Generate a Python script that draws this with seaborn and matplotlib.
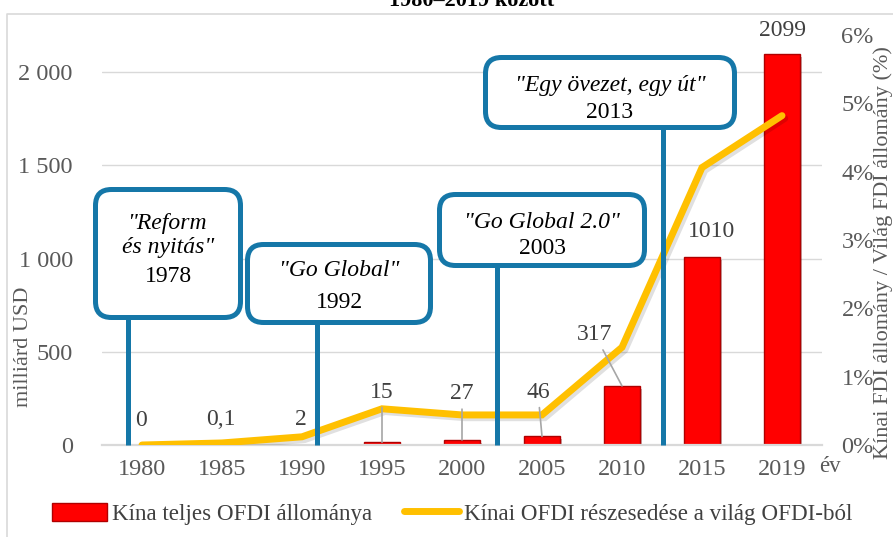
import numpy as np
import matplotlib
matplotlib.use('Agg')
import matplotlib.pyplot as plt
import matplotlib.patheffects as pe
from matplotlib.patches import FancyBboxPatch, Patch
from matplotlib.lines import Line2D
from matplotlib.transforms import Affine2D
from matplotlib.ticker import FuncFormatter, MultipleLocator
import seaborn as sns

# data
years = ['1980', '1985', '1990', '1995', '2000', '2005', '2010', '2015', '2019']
ofdi_stock = [0, 0.1, 2, 15, 27, 46, 317, 1010, 2099]          # milliárd USD
ofdi_labels = ['0', '0,1', '2', '15', '27', '46', '317', '1010', '2099']
world_share = [0.0, 0.03, 0.12, 0.53, 0.44, 0.44, 1.43, 4.06, 4.82]  # %

# label placement (pixel offsets from bar top) and leader lines
label_offsets = [(-1, 25), (-1, 25), (-1, 25), (0, 50), (0, 46), (-4, 44), (-27, 51), (10, 25), (0, 23)]
label_leader = [False, False, False, True, True, True, True, False, False]

# callout boxes: (italic lines, year, box x0, y0, x1, y1 in px from top-left, line x, text y's)
callouts = [
    (['"Reform', 'és nyitás"'], '1978', (93, 187, 243, 320), 128, [223, 248, 277]),
    (['"Go Global"'], '1992', (245, 242, 433, 325), 317, [270, 302]),
    (['"Go Global 2.0"'], '2003', (437, 192, 647, 268), 497, [222, 248]),
    (['"Egy övezet, egy út"'], '2013', (483, 55, 737, 130), 663, [85, 112]),
]

sns.set_style('white')
plt.rcParams['font.family'] = ['Liberation Serif', 'DejaVu Serif']

W, H = 893, 537
fig = plt.figure(figsize=(W / 100, H / 100), dpi=100)
pix = Affine2D().scale(1, -1).translate(0, H)  # px from top-left -> display

ax = fig.add_axes([102 / W, 92 / H, 720 / W, 410 / H])
sns.barplot(x=years, y=ofdi_stock, ax=ax, color='#FF0000', edgecolor='#B00000',
            linewidth=1, width=0.44, saturation=1, zorder=2)
for p in ax.patches:
    p.set_path_effects([pe.withSimplePatchShadow(offset=(2, -2), alpha=0.3)])
ax.set_xlim(-0.5, 8.5)
ax.set_ylim(0, 2200)
ax.yaxis.set_major_locator(MultipleLocator(500))
ax.yaxis.set_major_formatter(FuncFormatter(lambda v, p: f'{int(v):,}'.replace(',', ' ')))
ax.yaxis.grid(True, color='#D9D9D9', lw=1)
ax.set_axisbelow(True)
for s in ['top', 'left', 'right']:
    ax.spines[s].set_visible(False)
ax.spines['bottom'].set_color('#D9D9D9')
ax.spines['bottom'].set_linewidth(1.6)
ax.tick_params(axis='x', length=0, pad=10, labelsize=17.5, labelcolor='#595959')
ax.tick_params(axis='y', length=0, pad=21, labelsize=17.5, labelcolor='#595959')
ax.set_xlabel('')
ax.set_ylabel('milliárd USD', fontsize=16, color='#595959')
ax.yaxis.set_label_coords(-0.096, 0.239)

ax2 = ax.twinx()
sns.lineplot(x=np.arange(len(years)), y=world_share, ax=ax2, color='#FFC000', lw=5,
             solid_capstyle='round', solid_joinstyle='miter',
             path_effects=[pe.SimpleLineShadow(offset=(2, -2), alpha=0.12), pe.Normal()])
ax2.set_ylim(0, 6)
ax2.set_xlim(-0.5, 8.5)
ax2.yaxis.set_major_locator(MultipleLocator(1))
ax2.yaxis.set_major_formatter(FuncFormatter(lambda v, p: f'{int(round(v))}%'))
for s in ax2.spines.values():
    s.set_visible(False)
ax2.tick_params(axis='y', length=0, pad=14, labelsize=17.5, labelcolor='#595959')
ax2.set_ylabel('Kínai FDI állomány / Világ FDI állomány (%)', fontsize=16, color='#595959')
ax2.yaxis.set_label_coords(1.071, 0.47)

# bar value labels
for i, (v, lab) in enumerate(zip(ofdi_stock, ofdi_labels)):
    dx, dy = label_offsets[i]
    kw = {}
    if label_leader[i]:
        kw['arrowprops'] = dict(arrowstyle='-', color='#A6A6A6', lw=1.2, shrinkA=1, shrinkB=0)
    ax2.annotate(lab, xy=(i, v), xycoords=ax.transData, xytext=(dx, dy),
                 textcoords='offset pixels', ha='center', va='center',
                 fontsize=17, color='#404040', zorder=5, **kw)

# callouts
blue = '#1577A8'
for italic_lines, yr, (x0, y0, x1, y1), lx, ty in callouts:
    lw_px = 5
    box = FancyBboxPatch((x0 + lw_px / 2, H - y1 + lw_px / 2), x1 - x0 - lw_px, y1 - y0 - lw_px,
                         boxstyle='round,pad=0,rounding_size=16', transform=None,
                         fc='white', ec=blue, lw=lw_px * 0.72, zorder=6)
    fig.add_artist(box)
    fig.add_artist(Line2D([lx, lx], [y1 - 1, 445], transform=pix, color=blue,
                          lw=lw_px * 0.72, zorder=6, solid_capstyle='butt'))
    cx = (x0 + x1) / 2
    for line, yy in zip(italic_lines, ty[:-1]):
        fig.text(cx, yy, line, transform=pix, ha='center', va='center',
                 fontsize=17, style='italic', color='black', zorder=7)
    fig.text(cx, ty[-1], yr, transform=pix, ha='center', va='center',
             fontsize=17, color='black', zorder=7)

fig.text(830, 466, 'év', transform=pix, ha='center', va='center', fontsize=16.5, color='#595959')
fig.text(472, 6, '1980–2019 között', transform=pix, ha='center', va='baseline',
         fontsize=16, fontweight='bold', color='black')

# outer frame (left and top edges visible)
fig.add_artist(Line2D([7, 7, W + 5], [H + 5, 14, 14], transform=pix, color='#D9D9D9', lw=1.2))

handles = [Patch(fc='#FF0000', ec='#B00000'), Line2D([], [], color='#FFC000', lw=5)]
fig.legend(handles, ['Kína teljes OFDI állománya', 'Kínai OFDI részesedése a világ OFDI-ból'],
           loc='center', bbox_to_anchor=(452 / W, 1 - 514 / H), ncol=2, frameon=False,
           fontsize=16.6, handlelength=2.4, handleheight=0.85, handletextpad=0.2,
           columnspacing=1.4, labelcolor='#404040')

fig.savefig('out.png', dpi=100)
